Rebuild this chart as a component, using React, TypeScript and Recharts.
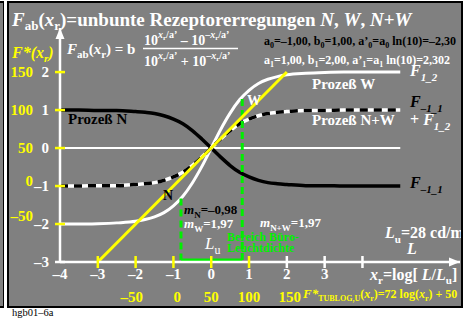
import React from 'react'
import { ComposedChart, Line, XAxis, YAxis, ReferenceLine, ReferenceDot } from 'recharts'

const FONT = '"Liberation Serif", "Times New Roman", serif'
const GRAY = '#808080'
const YEL = '#ffff00'
const GRN = '#00f000'

const xr = [-4, -3.5, -3, -2.5, -2, -1.75, -1.5, -1.25, -1, -0.75, -0.5, -0.25, 0, 0.25, 0.5, 0.75, 1, 1.25, 1.5, 1.75, 2, 2.5, 3, 3.5, 4, 4.5, 5]
// Prozeß N (F_-1_1), black
const procN = [1.0, 1.0, 0.99, 0.99, 0.96, 0.94, 0.91, 0.85, 0.76, 0.64, 0.46, 0.24, 0, -0.24, -0.46, -0.64, -0.76, -0.85, -0.91, -0.94, -0.96, -0.99, -0.99, -1.0, -1.0, -1.0, -1.0]
// Prozeß W (F_1_2), white
const procW = [-2.0, -2.0, -1.99, -1.97, -1.93, -1.88, -1.81, -1.7, -1.52, -1.27, -0.92, -0.49, 0, 0.49, 0.92, 1.27, 1.52, 1.7, 1.81, 1.88, 1.93, 1.97, 1.99, 2.0, 2.0, 2.0, 2.0]
// Prozeß N+W, dashed
const procNW = [-1.0, -1.0, -0.99, -0.99, -0.96, -0.94, -0.91, -0.85, -0.76, -0.64, -0.46, -0.24, 0, 0.24, 0.46, 0.64, 0.76, 0.85, 0.91, 0.94, 0.96, 0.99, 0.99, 1.0, 1.0, 1.0, 1.0]

const rows = xr.map((x, i) => ({ x, n: procN[i], w: procW[i], nw: procNW[i] }))

const yellowLine = [{ x: -3, y: -3 }, { x: 2, y: 2 }]
const officeLeft = [{ x: -0.8, y: -1.33 }, { x: -0.8, y: -2.95 }]
const officeBase = [{ x: -0.8, y: -2.95 }, { x: 0.82, y: -2.95 }]
const officeRight = [{ x: 0.82, y: -2.95 }, { x: 0.82, y: 1.35 }]

const xTicks = [-4, -3, -2, -1, 0, 1, 2, 3, 4]
const xTickLabels = ['–4', '–3', '–2', '–1', '0', '1', '2', '3', '']
const yTicks = [-3, -2, -1, 0, 1, 2]
const fStarLeft = [
  { y: 2, label: '150' },
  { y: 1, label: '100' },
  { y: 0, label: '50' },
  { y: -0.86, label: '0' },
  { y: -1.8, label: '–50' },
]
const fStarBottom = [
  { x: -2.1, label: '–50' },
  { x: -0.9, label: '0' },
  { x: 0, label: '50' },
  { x: 1, label: '100' },
  { x: 2.08, label: '150' },
]

const fmt = (v: number) => (v < 0 ? '–' + Math.abs(v) : String(v))

function XTick(props: any) {
  const { x, y, payload } = props
  const v = payload.value
  const yellow = v >= -3 && v <= 1
  const label = xTickLabels[xTicks.indexOf(v)]
  return (
    <g>
      {v > -4 && <line x1={x} x2={x} y1={y - 6} y2={y + 6} stroke={yellow ? YEL : '#fff'} strokeWidth={2.5} />}
      {label && (
        <text x={x} y={y + 17} textAnchor="middle" fill="#fff" fontFamily={FONT} fontWeight="bold" fontSize={15}>
          {label}
        </text>
      )}
    </g>
  )
}

function YTick(props: any) {
  const { x, y, payload } = props
  const v = payload.value
  const yellow = v >= -2
  return (
    <g>
      <line x1={x - 5} x2={x + 5} y1={y} y2={y} stroke={yellow ? YEL : '#fff'} strokeWidth={2.5} />
      <text x={x - 11} y={y + 5} textAnchor="end" fill="#fff" fontFamily={FONT} fontWeight="bold" fontSize={15}>
        {fmt(v)}
      </text>
    </g>
  )
}

function Overlay() {
  const t = { fontFamily: FONT, fontWeight: 'bold' as const }
  return (
    <svg width={468} height={323} style={{ position: 'absolute', left: 0, top: 0, pointerEvents: 'none' }}>
      <defs>
        <clipPath id="panel">
          <rect x={9} y={3} width={452} height={303} />
        </clipPath>
      </defs>
      <g clipPath="url(#panel)">
        {/* title */}
        <text x={12} y={26} fontSize={19} fill="#fff" {...t}>
          <tspan fontStyle="italic">F</tspan>
          <tspan fontSize={13} dy={4}>ab</tspan>
          <tspan dy={-4}>(</tspan>
          <tspan fontStyle="italic">x</tspan>
          <tspan fontSize={13} dy={4}>r</tspan>
          <tspan dy={-4}>{')=unbunte Rezeptorerregungen '}</tspan>
          <tspan fontStyle="italic">N</tspan>
          <tspan>{', '}</tspan>
          <tspan fontStyle="italic">W</tspan>
          <tspan>{', '}</tspan>
          <tspan fontStyle="italic">N</tspan>
          <tspan>+</tspan>
          <tspan fontStyle="italic">W</tspan>
        </text>

        <text x={12} y={58} fontSize={16} fill={YEL} fontStyle="italic" {...t}>
          <tspan>F*(x</tspan>
          <tspan fontSize={11} dy={4}>r</tspan>
          <tspan dy={-4}>)</tspan>
        </text>

        {/* formula */}
        <text x={67} y={54} fontSize={15} fill="#fff" {...t}>
          <tspan fontStyle="italic">F</tspan>
          <tspan fontSize={11} dy={4}>ab</tspan>
          <tspan dy={-4}>(</tspan>
          <tspan fontStyle="italic">x</tspan>
          <tspan fontSize={11} dy={4}>r</tspan>
          <tspan dy={-4}>{') = b'}</tspan>
        </text>
        <text x={144} y={45} fontSize={14} fill="#fff" {...t}>
          <tspan>10</tspan>
          <tspan fontSize={10} dy={-7} fontStyle="italic">x</tspan>
          <tspan fontSize={7} dy={2}>r</tspan>
          <tspan fontSize={10} dy={-2}>/a’</tspan>
          <tspan dy={7}>{' – 10'}</tspan>
          <tspan fontSize={10} dy={-7}>–</tspan>
          <tspan fontSize={10} fontStyle="italic">x</tspan>
          <tspan fontSize={7} dy={2}>r</tspan>
          <tspan fontSize={10} dy={-2}>/a’</tspan>
        </text>
        <line x1={143} x2={238} y1={48.5} y2={48.5} stroke="#fff" strokeWidth={1.6} />
        <text x={144} y={66} fontSize={14} fill="#fff" {...t}>
          <tspan>10</tspan>
          <tspan fontSize={10} dy={-7} fontStyle="italic">x</tspan>
          <tspan fontSize={7} dy={2}>r</tspan>
          <tspan fontSize={10} dy={-2}>/a’</tspan>
          <tspan dy={7}>{' + 10'}</tspan>
          <tspan fontSize={10} dy={-7}>–</tspan>
          <tspan fontSize={10} fontStyle="italic">x</tspan>
          <tspan fontSize={7} dy={2}>r</tspan>
          <tspan fontSize={10} dy={-2}>/a’</tspan>
        </text>

        {/* parameters */}
        <text x={264} y={45} fontSize={12} fill="#000" {...t}>
          <tspan>a</tspan>
          <tspan fontSize={8} dy={3}>0</tspan>
          <tspan dy={-3}>{'=–1,00, b'}</tspan>
          <tspan fontSize={8} dy={3}>0</tspan>
          <tspan dy={-3}>{'=1,00, a’'}</tspan>
          <tspan fontSize={8} dy={3}>0</tspan>
          <tspan dy={-3}>{'=a'}</tspan>
          <tspan fontSize={8} dy={3}>0</tspan>
          <tspan dy={-3}>{' ln(10)=–2,30'}</tspan>
        </text>
        <text x={264} y={64} fontSize={12} fill="#fff" {...t}>
          <tspan>a</tspan>
          <tspan fontSize={8} dy={3}>1</tspan>
          <tspan dy={-3}>{'=1,00, b'}</tspan>
          <tspan fontSize={8} dy={3}>1</tspan>
          <tspan dy={-3}>{'=2,00, a’'}</tspan>
          <tspan fontSize={8} dy={3}>1</tspan>
          <tspan dy={-3}>{'=a'}</tspan>
          <tspan fontSize={8} dy={3}>1</tspan>
          <tspan dy={-3}>{' ln(10)=2,302'}</tspan>
        </text>

        {/* curve labels */}
        <text x={410} y={76} fontSize={16} fill="#fff" fontStyle="italic" {...t}>
          <tspan>F</tspan>
          <tspan fontSize={11} dy={5}>1_2</tspan>
        </text>
        <text x={312} y={89} fontSize={15} fill="#fff" {...t}>Prozeß W</text>
        <text x={410} y={107} fontSize={16} fill="#000" fontStyle="italic" {...t}>
          <tspan>F</tspan>
          <tspan fontSize={11} dy={5}>–1_1</tspan>
        </text>
        <text x={312} y={125} fontSize={15} fill="#fff" {...t}>Prozeß N+W</text>
        <text x={410} y={125} fontSize={16} fill="#fff" {...t}>
          <tspan>{'+ '}</tspan>
          <tspan fontStyle="italic">F</tspan>
          <tspan fontSize={11} dy={5} fontStyle="italic">1_2</tspan>
        </text>
        <text x={410} y={188} fontSize={16} fill="#000" fontStyle="italic" {...t}>
          <tspan>F</tspan>
          <tspan fontSize={11} dy={5}>–1_1</tspan>
        </text>
        <text x={68} y={124} fontSize={15} fill="#000" {...t}>Prozeß N</text>
        <text x={247} y={105} fontSize={14} fill="#fff" {...t}>W</text>
        <text x={163} y={200} fontSize={14} fill="#000" {...t}>N</text>

        {/* slopes */}
        <text x={184} y={214} fontSize={13} fill="#000" {...t}>
          <tspan fontStyle="italic">m</tspan>
          <tspan fontSize={9} dy={4}>N</tspan>
          <tspan dy={-4}>=–0,98</tspan>
        </text>
        <text x={184} y={228} fontSize={13} fill="#fff" {...t}>
          <tspan fontStyle="italic">m</tspan>
          <tspan fontSize={9} dy={4}>W</tspan>
          <tspan dy={-4}>=1,97</tspan>
        </text>
        <text x={260} y={227} fontSize={13} fill="#fff" {...t}>
          <tspan fontStyle="italic">m</tspan>
          <tspan fontSize={9} dy={4}>N+W</tspan>
          <tspan dy={-4}>=1,97</tspan>
        </text>

        <text x={227} y={241} fontSize={12} fill={GRN} {...t}>Bereich Büro-</text>
        <text x={227} y={252} fontSize={12} fill={GRN} {...t}>Leuchtdichte</text>

        <text x={205} y={249} fontSize={17} fill="#fff" fontFamily={FONT} fontStyle="italic">
          <tspan>L</tspan>
          <tspan fontSize={12} dy={5} fontStyle="normal">u</tspan>
        </text>

        <text x={385} y={238} fontSize={16} fill="#fff" {...t}>
          <tspan fontStyle="italic">L</tspan>
          <tspan fontSize={11} dy={5}>u</tspan>
          <tspan dy={-5}>=28 cd/m</tspan>
          <tspan fontSize={10} dy={-6}>2</tspan>
        </text>
        <text x={407} y={254} fontSize={16} fill="#fff" fontStyle="italic" {...t}>L</text>

        <text x={370} y={280} fontSize={16} fill="#fff" {...t}>
          <tspan fontStyle="italic">x</tspan>
          <tspan fontSize={11} dy={4}>r</tspan>
          <tspan dy={-4}>{'=log['}</tspan>
          <tspan fontStyle="italic">{' L'}</tspan>
          <tspan>/</tspan>
          <tspan fontStyle="italic">L</tspan>
          <tspan fontSize={11} dy={4}>u</tspan>
          <tspan dy={-4}>]</tspan>
        </text>

        <text x={303} y={298} fontSize={12} fill={YEL} {...t}>
          <tspan fontSize={13} fontStyle="italic">F*</tspan>
          <tspan fontSize={8} dy={3}>TUBLOG,U</tspan>
          <tspan dy={-3}>(</tspan>
          <tspan fontStyle="italic">x</tspan>
          <tspan fontSize={8} dy={3}>r</tspan>
          <tspan dy={-3}>{')=72 log('}</tspan>
          <tspan fontStyle="italic">x</tspan>
          <tspan fontSize={8} dy={3}>r</tspan>
          <tspan dy={-3}>{') + 50'}</tspan>
        </text>
      </g>
      <text x={12} y={316} fontSize={10.5} fill="#000" fontFamily={FONT}>hgb01–6a</text>
    </svg>
  )
}

export default function App() {
  return (
    <div style={{ position: 'absolute', left: 0, top: 0, width: 468, height: 323, background: '#fff' }}>
      <div
        style={{
          position: 'absolute', left: -6, top: 1, width: 10, height: 307, background: GRAY,
          borderRight: '1px solid #000', borderTop: '2px solid #000', borderBottom: '2px solid #000', boxSizing: 'border-box',
        }}
      />
      <div
        style={{
          position: 'absolute', left: 7, top: 1, width: 456, height: 307, background: GRAY,
          border: '2px solid #000', boxSizing: 'border-box',
        }}
      />
      <div style={{ position: 'absolute', left: 0, top: 0 }}>
        <ComposedChart width={468} height={323} data={rows} margin={{ top: 28, right: 8, bottom: 31, left: 10 }}>
          <XAxis
            dataKey="x"
            type="number"
            domain={[-4, 6.58]}
            ticks={xTicks}
            allowDataOverflow
            height={30}
            tickSize={0}
            tickMargin={0}
            axisLine={{ stroke: '#fff', strokeWidth: 2.5 }}
            tick={XTick}
            interval={0}
          />
          <YAxis
            type="number"
            domain={[-3, 3.16]}
            ticks={yTicks}
            allowDataOverflow
            width={50}
            tickSize={0}
            tickMargin={0}
            axisLine={{ stroke: '#fff', strokeWidth: 2.5 }}
            tick={YTick}
            interval={0}
          />
          <ReferenceLine segment={[{ x: -4, y: 0 }, { x: 5, y: 0 }]} stroke="#fff" strokeWidth={2} />
          <Line dataKey="n" type="monotone" stroke="#000" strokeWidth={3.5} dot={false} isAnimationActive={false} />
          <Line dataKey="w" type="monotone" stroke="#fff" strokeWidth={3} dot={false} isAnimationActive={false} />
          <Line dataKey="nw" type="monotone" stroke="#fff" strokeWidth={3.5} dot={false} isAnimationActive={false} />
          <Line dataKey="nw" type="monotone" stroke="#000" strokeWidth={3.5} strokeDasharray="8 6" dot={false} isAnimationActive={false} />
          <Line data={officeLeft} dataKey="y" type="linear" stroke={GRN} strokeWidth={3} strokeDasharray="7 4" dot={false} isAnimationActive={false} />
          <Line data={officeBase} dataKey="y" type="linear" stroke={GRN} strokeWidth={3} dot={false} isAnimationActive={false} />
          <Line data={officeRight} dataKey="y" type="linear" stroke={GRN} strokeWidth={3} strokeDasharray="7 4" dot={false} isAnimationActive={false} />
          <Line data={yellowLine} dataKey="y" type="linear" stroke={YEL} strokeWidth={3} dot={false} isAnimationActive={false} />
          <ReferenceDot
            x={6.58}
            y={-3}
            ifOverflow="visible"
            shape={(p: any) => <polygon points={`${p.cx},${p.cy} ${p.cx - 11},${p.cy - 4.5} ${p.cx - 11},${p.cy + 4.5}`} fill="#fff" />}
          />
          <ReferenceDot
            x={-4}
            y={3.16}
            ifOverflow="visible"
            shape={(p: any) => <polygon points={`${p.cx},${p.cy} ${p.cx - 4.5},${p.cy + 11} ${p.cx + 4.5},${p.cy + 11}`} fill="#fff" />}
          />
          {fStarLeft.map((d) => (
            <ReferenceDot
              key={'l' + d.label}
              x={-4}
              y={d.y}
              ifOverflow="visible"
              shape={(p: any) => (
                <text x={p.cx - 27} y={p.cy + 5} textAnchor="end" fill={YEL} fontFamily={FONT} fontWeight="bold" fontSize={15}>
                  {d.label}
                </text>
              )}
            />
          ))}
          {fStarBottom.map((d) => (
            <ReferenceDot
              key={'b' + d.label}
              x={d.x}
              y={-3}
              ifOverflow="visible"
              shape={(p: any) => (
                <text x={p.cx} y={p.cy + 40} textAnchor="middle" fill={YEL} fontFamily={FONT} fontWeight="bold" fontSize={15}>
                  {d.label}
                </text>
              )}
            />
          ))}
        </ComposedChart>
      </div>
      <Overlay />
    </div>
  )
}
